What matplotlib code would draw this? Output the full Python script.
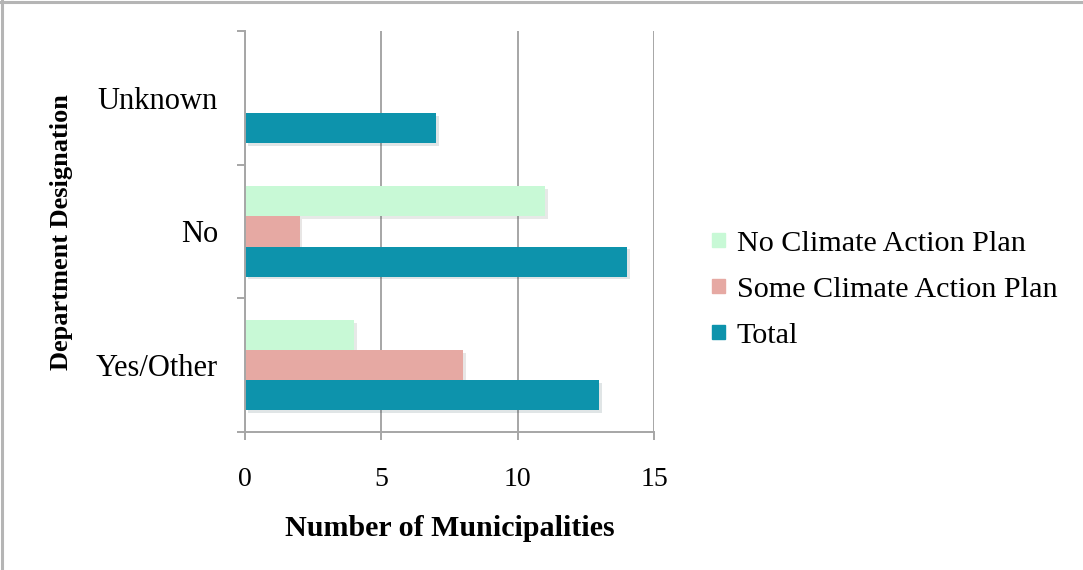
import numpy as np
import matplotlib
matplotlib.use("Agg")
import matplotlib.pyplot as plt
import matplotlib.patheffects as pe
from matplotlib.lines import Line2D

# data
categories = ["Yes/Other", "No", "Unknown"]
no_plan = [4, 11, 0]
some_plan = [8, 2, 0]
total = [13, 14, 7]
series_names = ["No Climate Action Plan", "Some Climate Action Plan", "Total"]
xticks = [0, 5, 10, 15]

colors = ["#C8F9D6", "#E6A9A3", "#0D93AC"]
grey = "#A6A6A6"

plt.rcParams['font.family'] = ['Liberation Serif', 'DejaVu Serif']

fig = plt.figure(figsize=(10.83, 5.70), dpi=100)
ax = fig.add_axes([245 / 1083, 1 - 432 / 570, (654 - 245) / 1083, (432 - 31) / 570])

y = np.arange(len(categories))
h = 0.225
shadow = [pe.SimplePatchShadow(offset=(2, -2), alpha=0.12), pe.Normal()]
# top to bottom in each group: no plan, some plan, total
for vals, off, col, name in zip([no_plan, some_plan, total], [h, 0, -h], colors, series_names):
    b = ax.barh(y + off, vals, height=h, color=col, label=name)
    for p in b:
        if p.get_width() > 0:
            p.set_path_effects(shadow)

ax.set_xlim(0, 15)
ax.set_ylim(-0.5, len(categories) - 0.5)
ax.set_xticks(xticks)
ax.set_xticklabels([str(t) for t in xticks], fontsize=20)
ax.xaxis.grid(True, color=grey, lw=1.4)
ax.set_axisbelow(True)

# category labels between boundary ticks
ax.set_yticks(np.arange(-0.5, len(categories), 1.0))
ax.set_yticklabels([])
ax.set_yticks(y, minor=True)
ax.set_yticklabels(categories, minor=True, fontsize=22)
ax.tick_params(axis='y', which='minor', length=0, pad=19.5)
ax.tick_params(axis='y', which='major', length=6, width=1.4, color=grey)
ax.tick_params(axis='x', length=6, width=1.4, color=grey, pad=19)

for s in ["top", "right"]:
    ax.spines[s].set_visible(False)
for s in ["left", "bottom"]:
    ax.spines[s].set_color(grey)
    ax.spines[s].set_linewidth(1.4)

fig.text(450 / 1083, 1 - 528 / 570, "Number of Municipalities", fontsize=21.6,
         fontweight='bold', ha='center', va='center')
fig.text(62 / 1083, 1 - 232 / 570, "Department Designation", fontsize=19,
         fontweight='bold', ha='center', va='center', rotation=90)

handles = [plt.Rectangle((0, 0), 1, 1, color=c) for c in colors]
fig.legend(handles, series_names, loc='center left', bbox_to_anchor=(712 / 1083, 1 - 290 / 570),
           frameon=False, fontsize=21.7, handlelength=0.42, handleheight=0.33,
           handletextpad=0.4, labelspacing=0.67, borderpad=0, borderaxespad=0)

# outer frame (top and left edges visible)
fig.add_artist(Line2D([0, 1], [0.997, 0.997], transform=fig.transFigure, color="#B5B5B5", lw=2.2))
fig.add_artist(Line2D([0.002, 0.002], [0, 1], transform=fig.transFigure, color="#B5B5B5", lw=2.2))

fig.savefig("out.png", dpi=100, facecolor="white")
